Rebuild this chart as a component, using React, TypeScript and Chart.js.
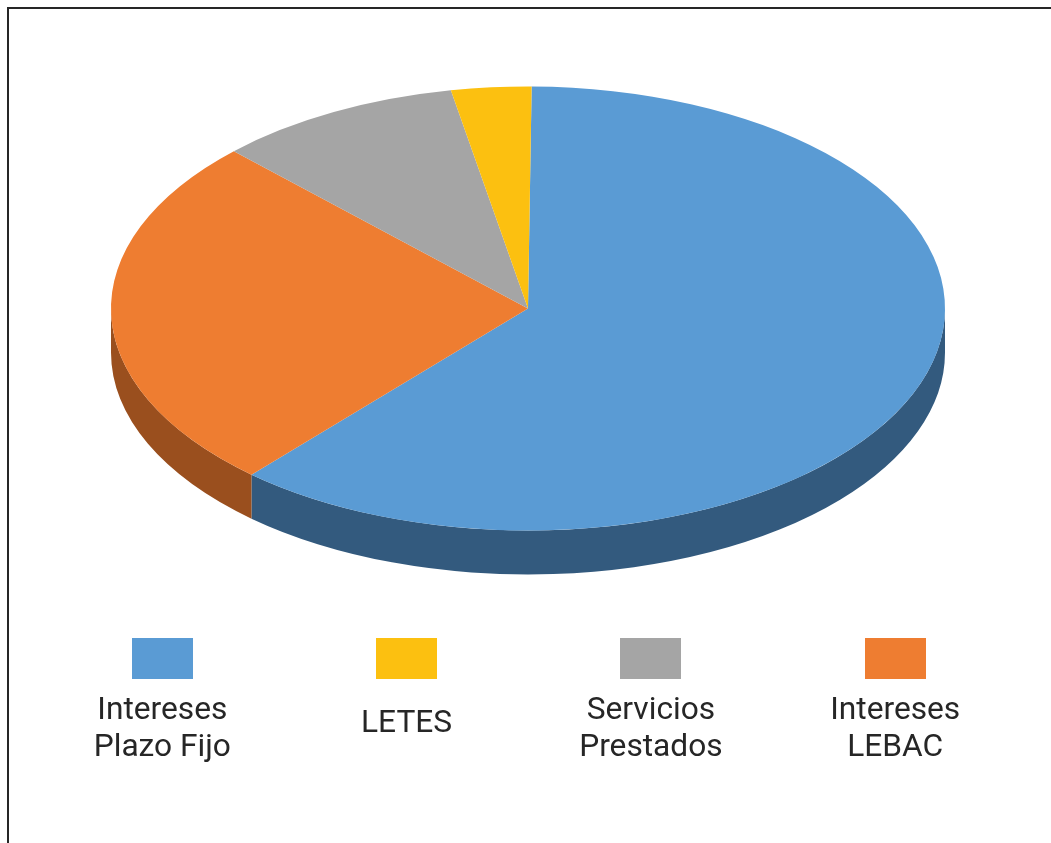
import React, { useEffect, useRef } from "react";
import { Chart, registerables } from "chart.js";

Chart.register(...registerables);

// ---- data (legend order) ----
const categories: string[][] = [
  ["Intereses", "Plazo Fijo"],
  ["LETES"],
  ["Servicios", "Prestados"],
  ["Intereses", "LEBAC"],
];
const values: number[] = [61.4, 3.1, 9.5, 26.0];
const topColors: string[] = ["#5A9BD4", "#FCC010", "#A5A5A5", "#EE7D31"];
const sideColors: string[] = ["#335A7E", "#A07A00", "#6A6A6A", "#9A4F1E"];
// clockwise drawing order starting at 12 o'clock
const drawOrder: number[] = [0, 3, 2, 1];

// ---- layout ----
const W = 1051;
const H = 843;
const CX = 528;
const CY = 308.5;
const RX = 417;
const RY = 222;
const DEPTH = 44;
const TILT = RY / RX;

const pie3d = {
  id: "pie3d",
  beforeDatasetsDraw(chart: any) {
    const meta = chart.getDatasetMeta(0);
    const arcs = meta.data;
    const ctx: CanvasRenderingContext2D = chart.ctx;
    if (!arcs.length) return;
    const p0 = arcs[0].getProps(["x", "y", "outerRadius"], true);
    const cx = p0.x;
    const cy = p0.y;
    const r = p0.outerRadius;
    // extruded sides (front half only)
    arcs.forEach((arc: any, j: number) => {
      const { startAngle, endAngle } = arc.getProps(["startAngle", "endAngle"], true);
      const idx = drawOrder[j];
      for (let n = -1; n <= 1; n++) {
        const lo = Math.max(startAngle, 2 * Math.PI * n);
        const hi = Math.min(endAngle, 2 * Math.PI * n + Math.PI);
        if (hi > lo) {
          ctx.save();
          ctx.fillStyle = sideColors[idx];
          ctx.beginPath();
          ctx.ellipse(cx, CY, r, r * TILT, 0, lo, hi, false);
          ctx.ellipse(cx, CY + DEPTH, r, r * TILT, 0, hi, lo, true);
          ctx.closePath();
          ctx.fill();
          ctx.restore();
        }
      }
    });
    ctx.save();
    ctx.translate(cx, CY);
    ctx.scale(1, TILT);
    ctx.translate(-cx, -cy);
  },
  afterDatasetsDraw(chart: any) {
    chart.ctx.restore();
  },
};

function PieChart() {
  const ref = useRef<HTMLCanvasElement | null>(null);
  useEffect(() => {
    if (!ref.current) return;
    const chart = new Chart(ref.current, {
      type: "pie",
      data: {
        labels: drawOrder.map((i) => categories[i].join(" ")),
        datasets: [
          {
            data: drawOrder.map((i) => values[i]),
            backgroundColor: drawOrder.map((i) => topColors[i]),
            borderWidth: 0,
            clip: false as any,
          } as any,
        ],
      },
      options: {
        animation: false,
        responsive: false,
        maintainAspectRatio: false,
        devicePixelRatio: 1,
        events: [],
        rotation: 0.5,
        radius: RX,
        layout: { padding: { left: CX * 2 - W, right: 0, top: 0, bottom: 0 } },
        plugins: { legend: { display: false }, tooltip: { enabled: false } },
      } as any,
      plugins: [pie3d],
    });
    return () => chart.destroy();
  }, []);
  return (
    <canvas
      ref={ref}
      width={W}
      height={H}
      style={{ position: "absolute", left: 0, top: 0, width: W, height: H }}
    />
  );
}

export default function App() {
  const legendX0 = 162.3;
  const legendStep = 244.3;
  return (
    <div
      style={{
        position: "fixed",
        left: 0,
        top: 0,
        width: W,
        height: H,
        overflow: "hidden",
        background: "#fff",
      }}
    >
      <div
        style={{
          position: "absolute",
          left: 7,
          top: 7,
          width: W + 50,
          height: H + 50,
          borderLeft: "2px solid #262626",
          borderTop: "2px solid #262626",
          boxSizing: "border-box",
        }}
      />
      <PieChart />
      {categories.map((lines, i) => {
        const cx = legendX0 + legendStep * i;
        return (
          <React.Fragment key={i}>
            <div
              style={{
                position: "absolute",
                left: cx - 30.5,
                top: 638,
                width: 61,
                height: 41,
                background: topColors[i],
              }}
            />
            <div
              style={{
                position: "absolute",
                left: cx - 120,
                top: 689.5 + (lines.length === 1 ? 13.5 : 0),
                width: 240,
                textAlign: "center",
                fontFamily: "Roboto, 'Noto Sans', sans-serif",
                fontSize: 31.7,
                lineHeight: "37px",
                color: "#262626",
              }}
            >
              {lines.map((l, k) => (
                <div key={k}>{l}</div>
              ))}
            </div>
          </React.Fragment>
        );
      })}
    </div>
  );
}
